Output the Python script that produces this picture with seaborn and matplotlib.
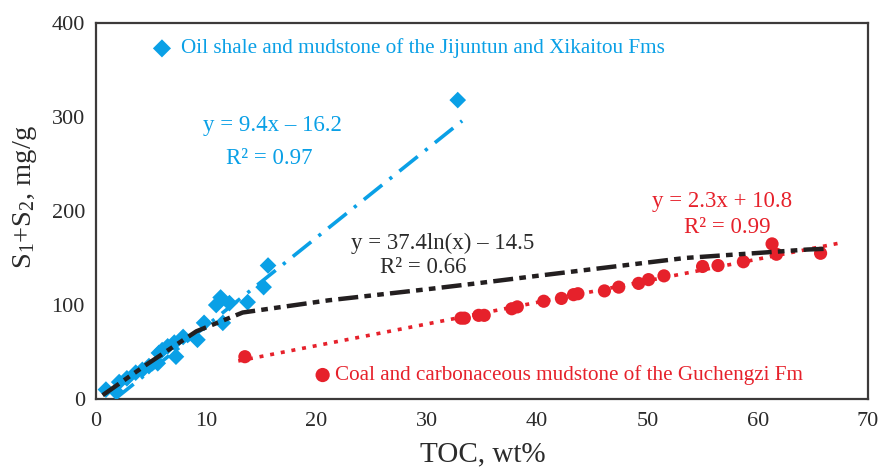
import numpy as np
import pandas as pd
import matplotlib
matplotlib.use("Agg")
import matplotlib.pyplot as plt
import seaborn as sns

# ---- data ----
blue_toc = [0.9, 1.8, 2.1, 2.8, 3.6, 4.2, 4.8, 5.6, 5.7, 6.0, 6.5, 7.1, 7.25, 7.9,
            9.2, 9.8, 10.9, 11.3, 11.5, 12.1, 13.75, 15.2, 15.6, 32.8]
blue_s12 = [10, 8, 18, 22, 28, 31, 35, 38, 49, 52, 56, 60, 45, 66,
            63, 81, 100, 108, 81, 102, 103, 119, 142, 318]

red_toc = [13.5, 33.1, 33.4, 34.7, 35.2, 37.7, 38.2, 40.6, 42.2, 43.3, 43.7, 46.1, 47.4,
           49.2, 50.1, 51.5, 55.0, 56.4, 58.7, 61.3, 61.7, 65.7]
red_s12 = [45, 86, 86, 89, 89, 96, 98, 104, 107, 111, 112, 115, 119,
           123, 127, 131, 141, 142, 146, 165, 154, 155]

blue_label = "Oil shale and mudstone of the Jijuntun and Xikaitou Fms"
red_label = "Coal and carbonaceous mudstone of the Guchengzi Fm"

# fit lines (coefficients and x-ranges)
blue_fit = (9.4, -16.2)
blue_fit_range = (1.75, 33.2)
red_fit = (2.3, 10.8)
red_fit_range = (12.9, 67.3)
# logarithmic trend curve as drawn in the reference
log_curve_x = [0.6, 4.5, 9.1, 13.3, 21.1, 30.2, 34.5, 40.0, 53.4, 64.5, 66.5]
log_curve_y = [4, 36, 72, 92, 105, 117, 123, 131, 150, 159, 160]

blue_eq = ["y = 9.4x \u2013 16.2", "R\u00b2 = 0.97"]
black_eq = ["y = 37.4ln(x) \u2013 14.5", "R\u00b2 = 0.66"]
red_eq = ["y = 2.3x + 10.8", "R\u00b2 = 0.99"]

xticks = [0, 10, 20, 30, 40, 50, 60, 70]
yticks = [0, 100, 200, 300, 400]

# ---- style ----
sns.set_theme(style="white")
plt.rcParams['font.family'] = ['Liberation Serif', 'DejaVu Serif']
plt.rcParams['mathtext.fontset'] = 'custom'
plt.rcParams['mathtext.rm'] = 'Liberation Serif'
plt.rcParams['mathtext.it'] = 'Liberation Serif:italic'

BLUE = "#0aa0e6"
RED = "#e6212b"
BLACK = "#231f20"
AX = "#3c3a3a"
TXT = "#2b2b2b"

fig = plt.figure(figsize=(8.81, 4.71), dpi=100)
ax = fig.add_axes([96/881, 1-399/471, (868-96)/881, (399-23)/471])

df = pd.concat([
    pd.DataFrame({"TOC": blue_toc, "S12": blue_s12, "group": blue_label}),
    pd.DataFrame({"TOC": red_toc, "S12": red_s12, "group": red_label}),
], ignore_index=True)

sns.scatterplot(data=df[df.group == blue_label], x="TOC", y="S12", marker="D",
                s=72, color=BLUE, edgecolor="none", linewidth=0, ax=ax, zorder=3, legend=False)
sns.scatterplot(data=df[df.group == red_label], x="TOC", y="S12", marker="o",
                s=90, color=RED, edgecolor="none", linewidth=0, ax=ax, zorder=3, legend=False)

# fit lines
xb = np.linspace(*blue_fit_range, 50)
l1, = ax.plot(xb, blue_fit[0]*xb + blue_fit[1], color=BLUE, lw=2.6, zorder=4)
l1.set_dashes([6.5, 2.6, 0.9, 2.6])

xr = np.linspace(*red_fit_range, 50)
l2, = ax.plot(xr, red_fit[0]*xr + red_fit[1], color=RED, lw=2.6, zorder=4)
l2.set_dashes([1.1, 1.9])

l3, = ax.plot(log_curve_x, log_curve_y, color=BLACK, lw=3.2, zorder=5)
l3.set_dashes([4.5, 1.4, 1.5, 1.4, 1.5, 1.4])

ax.set_xlim(0, 70)
ax.set_ylim(0, 400)
ax.set_xticks(xticks)
ax.set_yticks(yticks)
ax.tick_params(direction="in", length=6, width=1.3, color=AX, labelsize=16,
               labelcolor=TXT, pad=8)
ax.tick_params(axis="x", pad=9)
for sp in ax.spines.values():
    sp.set_color(AX)
    sp.set_linewidth(1.6)

ax.set_xlabel("TOC, wt%", fontsize=21, color=TXT)
ax.set_ylabel("S$_1$+S$_2$, mg/g", fontsize=20.5, color=TXT)
ax.xaxis.set_label_coords((483-96)/(868-96), -(441-399)/(399-23))
ax.yaxis.set_label_coords(-(96-39)/(868-96), (399-197)/(399-23))

# legend-like annotations inside the plot
ax.scatter([5.98], [373], marker="D", s=85, color=BLUE, edgecolor="none", zorder=3)
ax.text(7.7, 373, blue_label, color=BLUE, fontsize=15.2, va="center", ha="left")
ax.scatter([20.55], [25.5], marker="o", s=105, color=RED, edgecolor="none", zorder=3)
ax.text(21.7, 25.5, red_label, color=RED, fontsize=15.2, va="center", ha="left")

# equations
ax.text(15.96, 291, blue_eq[0], color=BLUE, fontsize=16.5, ha="center", va="center")
ax.text(15.7, 256, blue_eq[1], color=BLUE, fontsize=16.5, ha="center", va="center")
ax.text(31.4, 166, black_eq[0], color=TXT, fontsize=16.5, ha="center", va="center")
ax.text(29.7, 140, black_eq[1], color=TXT, fontsize=16.5, ha="center", va="center")
ax.text(56.8, 210, red_eq[0], color=RED, fontsize=16.5, ha="center", va="center")
ax.text(57.2, 182, red_eq[1], color=RED, fontsize=16.5, ha="center", va="center")

fig.savefig("out.png", dpi=100)
